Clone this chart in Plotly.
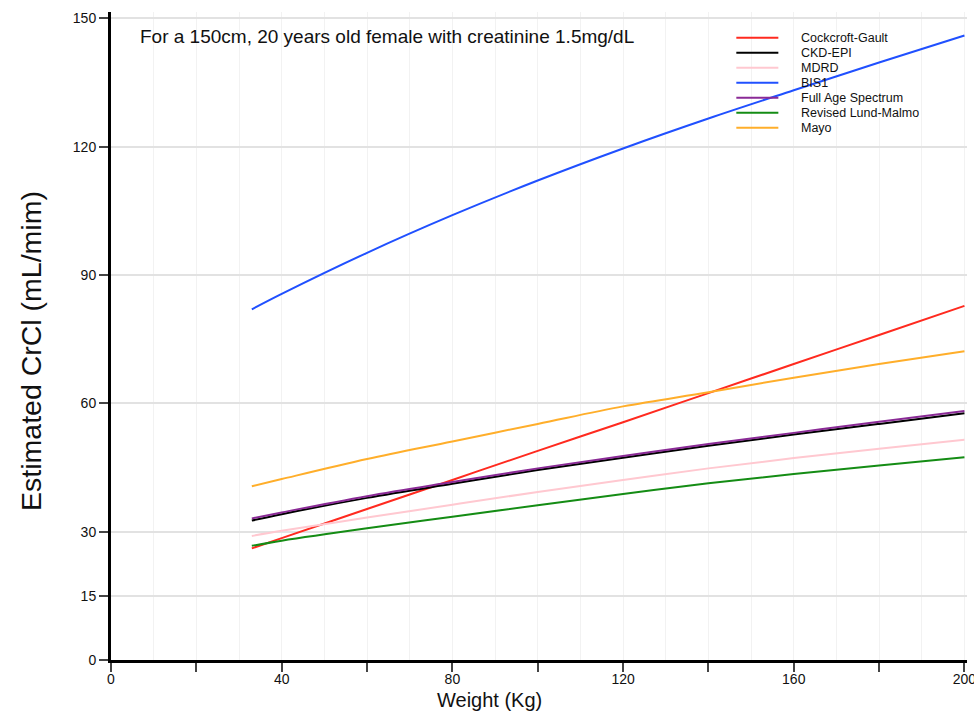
import plotly.graph_objects as go

# ---- data ----
weight = [33, 40, 60, 80, 100, 120, 140, 160, 180, 200]
cockcroft_gault = [26.1, 28.5, 35.3, 42.1, 48.9, 55.6, 62.4, 69.2, 76.0, 82.8]
ckd_epi = [32.6, 34.1, 37.9, 41.2, 44.4, 47.3, 50.1, 52.7, 55.2, 57.7]
mdrd = [29.0, 30.2, 33.3, 36.3, 39.3, 42.1, 44.8, 47.2, 49.4, 51.5]
bis1 = [82.0, 85.6, 95.2, 104.0, 112.1, 119.6, 126.6, 133.2, 139.7, 146.0]
full_age_spectrum = [33.1, 34.5, 38.3, 41.6, 44.8, 47.7, 50.5, 53.1, 55.7, 58.2]
lund_malmo = [26.7, 27.9, 30.8, 33.5, 36.2, 38.8, 41.3, 43.5, 45.5, 47.4]
mayo = [40.6, 42.3, 47.0, 51.1, 55.2, 59.3, 62.6, 66.0, 69.2, 72.2]

series_names = ["Cockcroft-Gault", "CKD-EPI", "MDRD", "BIS1",
                "Full Age Spectrum", "Revised Lund-Malmo", "Mayo"]
series_values = [cockcroft_gault, ckd_epi, mdrd, bis1,
                 full_age_spectrum, lund_malmo, mayo]
series_colors = ["#ff2a1f", "#000000", "#ffc8d0", "#2050ff",
                 "#8a2a96", "#148c14", "#ffae2a"]

x_tickvals = [0, 20, 40, 60, 80, 100, 120, 140, 160, 180, 200]
x_ticktext = ["0", "", "40", "", "80", "", "120", "", "160", "", "200"]
y_tickvals = [0, 15, 30, 60, 90, 120, 150]

note_text = "For a 150cm, 20 years old female with creatinine 1.5mg/dL"

# ---- layout geometry (pixels) ----
W, H = 974, 717
L, T, B = 111, 12, 57
XMAX = 200.6
pw = 853 * XMAX / 200.0
R = W - L - pw
ph = H - T - B


def px(x):
    return (x - L) / pw


def py(y):
    return (H - B - y) / ph


FONT = "Liberation Sans, Arial, sans-serif"

fig = go.Figure()
for name, vals, col in zip(series_names, series_values, series_colors):
    fig.add_trace(go.Scatter(x=weight, y=vals, mode="lines", name=name,
                             line=dict(color=col, width=2, shape="spline"),
                             showlegend=False))

shapes = []
annotations = []
# manual legend
for i, (name, col) in enumerate(zip(series_names, series_colors)):
    yy = py(37.7 + 15 * i)
    shapes.append(dict(type="line", xref="paper", yref="paper",
                       x0=px(736), x1=px(778), y0=yy, y1=yy,
                       line=dict(color=col, width=2)))
    annotations.append(dict(xref="paper", yref="paper", x=px(799), y=yy,
                            text=name, showarrow=False, xanchor="left",
                            yanchor="middle",
                            font=dict(size=12.5, color="#111", family=FONT)))

annotations.append(dict(xref="paper", yref="paper", x=px(138), y=py(37),
                        text=note_text, showarrow=False, xanchor="left",
                        yanchor="middle",
                        font=dict(size=19, color="#111", family=FONT)))
annotations.append(dict(xref="paper", yref="paper", x=px(489), y=py(700),
                        text="Weight (Kg)", showarrow=False, xanchor="center",
                        yanchor="middle",
                        font=dict(size=20, color="#111", family=FONT)))
annotations.append(dict(xref="paper", yref="paper", x=px(31), y=py(351),
                        text="Estimated CrCl (mL/mim)", showarrow=False,
                        textangle=-90, xanchor="center", yanchor="middle",
                        font=dict(size=28.5, color="#111", family=FONT)))

fig.update_layout(
    width=W, height=H,
    margin=dict(l=L, r=R, t=T, b=B, pad=0, autoexpand=False),
    paper_bgcolor="white", plot_bgcolor="white",
    font=dict(family=FONT, size=14, color="#111"),
    shapes=shapes, annotations=annotations,
    xaxis=dict(range=[0, XMAX], tickmode="array", tickvals=x_tickvals,
               ticktext=x_ticktext, ticks="outside", ticklen=9, tickwidth=1.5,
               tickcolor="#444", showline=True, linecolor="black", linewidth=3,
               showgrid=True, gridcolor="#f2f2f2", gridwidth=1,
               minor=dict(tickmode="linear", tick0=0, dtick=10, showgrid=True,
                          gridcolor="#f2f2f2", gridwidth=1, ticks=""),
               zeroline=False, ticklabelstandoff=-5, automargin=False,
               ticklabeloverflow="allow",
               tickfont=dict(size=14, color="#111")),
    yaxis=dict(range=[0, 151.5], tickmode="array", tickvals=y_tickvals,
               ticks="outside", ticklen=9, tickwidth=1.5, tickcolor="#444",
               showline=True, linecolor="black", linewidth=3,
               showgrid=True, gridcolor="#e2e2e2", gridwidth=1.5,
               zeroline=False, automargin=False,
               tickfont=dict(size=14, color="#111")),
)

fig.write_html("out.html")
